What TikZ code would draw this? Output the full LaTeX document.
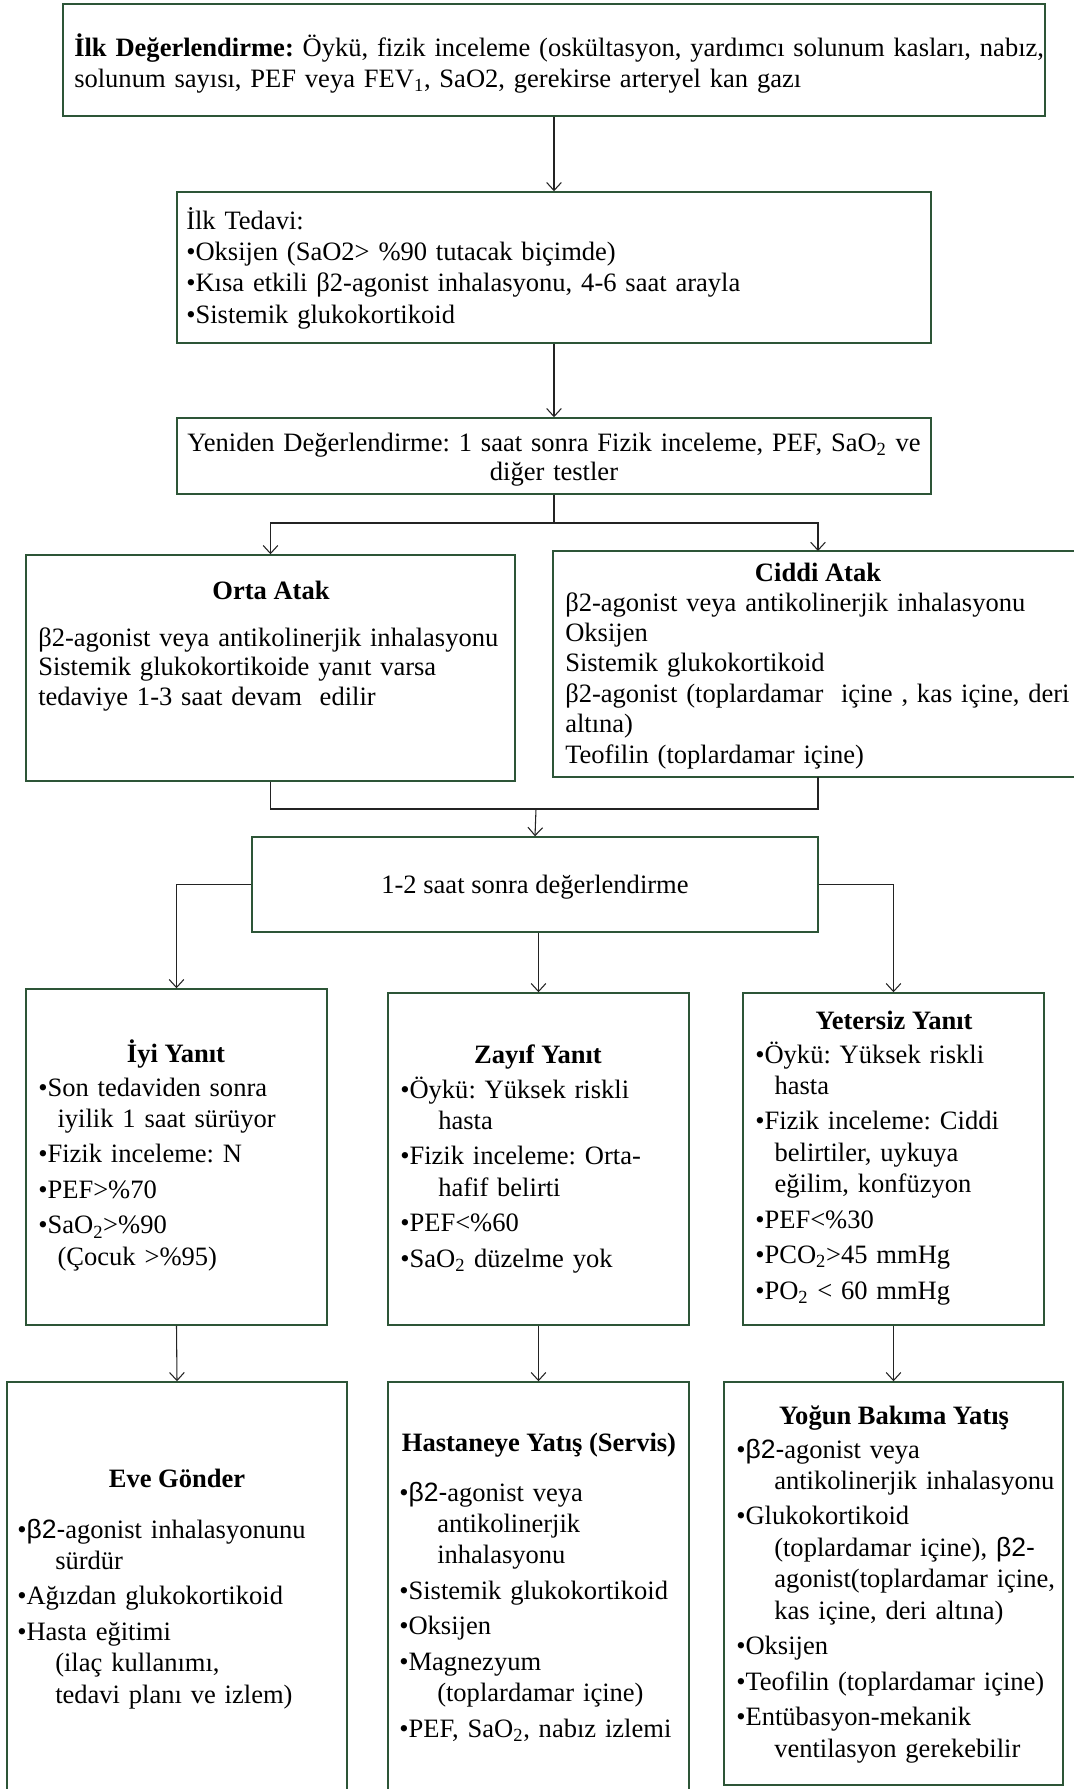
\documentclass[tikz,border=0pt]{standalone}
\usepackage{fontspec}
\setmainfont{Liberation Serif}
\newfontfamily\arialf{Liberation Sans}
\usetikzlibrary{arrows.meta,fit}
\definecolor{boxgreen}{RGB}{45,85,55}
\definecolor{linegray}{RGB}{35,35,35}
\newcommand{\mysub}[1]{\textsubscript{#1}}
\newcommand{\bsans}{{\arialf β2-}}
\newcommand{\ci}{\hspace*{14.5pt}}
\newcommand{\cii}{\hspace*{28.5pt}}
\frenchspacing
\begin{document}
\begin{tikzpicture}[x=0.75pt,y=-0.75pt,
  box/.style={draw=boxgreen, line width=1.1pt, inner sep=0pt},
  conn/.style={draw=linegray, line width=0.8pt},
  arr/.style={conn, -{Straight Barb[length=6pt,width=11pt]}},
  body/.style={inner sep=0pt, text width=#1, align=left, anchor=base west,
    font=\fontsize{19.9pt}{23.6pt}\selectfont},
  body/.default=210pt,
  ctext/.style={inner sep=0pt, anchor=base, font=\fontsize{19.9pt}{23.6pt}\selectfont},
  ttl/.style={inner sep=0pt, anchor=base, font=\fontsize{19.9pt}{23.6pt}\selectfont\bfseries},
]
\useasboundingbox (0,0) rectangle (1074,1789);
\fill[white] (0,0) rectangle (1074,1789);
\clip (0,0) rectangle (1074,1789);

% ---------- boxes ----------
\node[box, fit={(63,4) (1045,116)}] (b1) {};
\node[box, fit={(177,192) (931,343)}] (b2) {};
\node[box, fit={(177,418) (931,494)}] (b3) {};
\node[box, fit={(26,555) (515,781)}] (orta) {};
\node[box, fit={(553,551) (1075.5,777)}] (ciddi) {};
\node[box, fit={(252,837) (818,932)}] (b5) {};
\node[box, fit={(26,989) (327,1325)}] (iyi) {};
\node[box, fit={(388,993) (689,1325)}] (zayif) {};
\node[box, fit={(743,993) (1044,1325)}] (yet) {};
\node[box, fit={(7,1382) (347,1790.5)}] (eve) {};
\node[box, fit={(388,1382) (689,1790.5)}] (hast) {};
\node[box, fit={(724,1382) (1063,1785)}] (yogun) {};

% ---------- connectors ----------
\draw[arr] (b1.south) -- (b2.north);
\draw[arr] (b2.south) -- (b3.north);
\coordinate (j1) at (554,523);
\coordinate (cidTop) at (818,551);
\coordinate (cidBot) at (818,777);
\draw[conn] (b3.south) -- (j1);
\draw[arr] (j1) -| (orta.north);
\draw[arr] (j1) -| (cidTop);
\coordinate (j2) at (536,809);
\draw[conn] (orta.south) |- (j2) -| (cidBot);
\draw[arr] (j2) -- (b5.north);
\draw[arr] (b5.west) -| (iyi.north);
\draw[arr] (zayif.north |- b5.south) -- (zayif.north);
\draw[arr] (b5.east) -| (yet.north);
\draw[arr] (iyi.south) -- (eve.north);
\draw[arr] (zayif.south) -- (hast.north);
\draw[arr] (yet.south) -- (yogun.north);

% ---------- texts ----------
\node[body=745pt, font=\fontsize{19.9pt}{23.25pt}\selectfont] (t1) at (74,56)
  {\mbox{\textbf{İlk Değerlendirme:} Öykü, fizik inceleme (oskültasyon, yardımcı solunum kasları, nabız,}\\
   \mbox{solunum sayısı, PEF veya FEV\mysub{1}, SaO2, gerekirse arteryel kan gazı}};

\node[body=540pt] (t2) at (186,229)
  {İlk Tedavi:\\
   •Oksijen (SaO2> \%90 tutacak biçimde)\\
   \mbox{•Kısa etkili β2-agonist inhalasyonu, 4-6 saat arayla}\\
   •Sistemik glukokortikoid};

\node[ctext, text width=555pt, align=center, font=\fontsize{19.9pt}{22pt}\selectfont] (t3) at (554,451)
  {\mbox{Yeniden Değerlendirme: 1 saat sonra Fizik inceleme, PEF, SaO\mysub{2} ve}\\ diğer testler};

\node[ttl] (ortaT) at (271,599) {Orta Atak};
\node[body=350pt, font=\fontsize{19.9pt}{22.3pt}\selectfont] (ortaB) at (38,646)
  {\mbox{β2-agonist veya antikolinerjik inhalasyonu}\\
   \mbox{Sistemik glukokortikoide yanıt varsa}\\
   \mbox{tedaviye 1-3 saat devam\ \ edilir}};

\node[ttl] (ciddiT) at (818,581) {Ciddi Atak};
\node[body=381pt, font=\fontsize{19.9pt}{22.8pt}\selectfont] (ciddiB) at (565,611)
  {\mbox{β2-agonist veya antikolinerjik inhalasyonu}\\
   Oksijen\\
   Sistemik glukokortikoid\\
   \mbox{β2-agonist (toplardamar\ \ içine , kas içine, deri}\\
   altına)\\
   \mbox{Teofilin (toplardamar içine)}};

\node[ctext] (t5) at (535,893) {1-2 saat sonra değerlendirme};

\node[ttl] (iyiT) at (176,1062) {İyi Yanıt};
\node[body=210pt] (iyiB) at (38,1096)
  {\mbox{•Son tedaviden sonra}\\
   \ci\mbox{iyilik 1 saat sürüyor}\\[3pt]
   \mbox{•Fizik inceleme: N}\\[3pt]
   •PEF>\%70\\[3pt]
   •SaO\mysub{2}>\%90\\
   \ci\mbox{(Çocuk >\%95)}};

\node[ttl] (zayifT) at (538,1063) {Zayıf Yanıt};
\node[body=210pt] (zayifB) at (400,1098)
  {\mbox{•Öykü: Yüksek riskli}\\
   \cii hasta\\[3pt]
   \mbox{•Fizik inceleme: Orta-}\\
   \cii\mbox{hafif belirti}\\[3pt]
   •PEF<\%60\\[3pt]
   \mbox{•SaO\mysub{2} düzelme yok}};

\node[ttl] (yetT) at (894,1029) {Yetersiz Yanıt};
\node[body=205pt] (yetB) at (755,1063)
  {\mbox{•Öykü: Yüksek riskli}\\
   \ci hasta\\[3pt]
   \mbox{•Fizik inceleme: Ciddi}\\
   \ci\mbox{belirtiler, uykuya}\\
   \ci\mbox{eğilim, konfüzyon}\\[3pt]
   •PEF<\%30\\[3pt]
   \mbox{•PCO\mysub{2}>45 mmHg}\\[3pt]
   \mbox{•PO\mysub{2} < 60 mmHg}};

\node[ttl] (eveT) at (177,1487) {Eve Gönder};
\node[body=240pt] (eveB) at (17,1538)
  {\mbox{•\bsans agonist inhalasyonunu}\\
   \cii sürdür\\[3pt]
   \mbox{•Ağızdan glukokortikoid}\\[3pt]
   \mbox{•Hasta eğitimi}\\
   \cii\mbox{(ilaç kullanımı,}\\
   \cii\mbox{tedavi planı ve izlem)}};

\node[ttl] (hastT) at (539,1451) {Hastaneye Yatış (Servis)};
\node[body=212pt] (hastB) at (399,1501)
  {\mbox{•\bsans agonist veya}\\
   \cii antikolinerjik\\
   \cii inhalasyonu\\[3pt]
   \mbox{•Sistemik glukokortikoid}\\[3pt]
   •Oksijen\\[3pt]
   •Magnezyum\\
   \cii\mbox{(toplardamar içine)}\\[3pt]
   \mbox{•PEF, SaO\mysub{2}, nabız izlemi}};

\node[ttl] (yogunT) at (894,1424) {Yoğun Bakıma Yatış};
\node[body=240pt] (yogunB) at (736,1458)
  {\mbox{•\bsans agonist veya}\\
   \cii\mbox{antikolinerjik inhalasyonu}\\[3pt]
   •Glukokortikoid\\
   \cii\mbox{(toplardamar içine), \bsans}\\
   \cii\mbox{agonist(toplardamar içine,}\\
   \cii\mbox{kas içine, deri altına)}\\[3pt]
   •Oksijen\\[3pt]
   \mbox{•Teofilin (toplardamar içine)}\\[3pt]
   \mbox{•Entübasyon-mekanik}\\
   \cii\mbox{ventilasyon gerekebilir}};
\end{tikzpicture}
\end{document}
